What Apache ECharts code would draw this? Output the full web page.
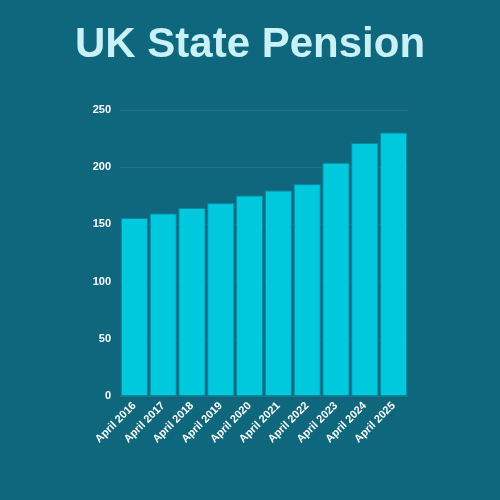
<!DOCTYPE html>
<html><head><meta charset="utf-8">
<script src="https://cdn.jsdelivr.net/npm/echarts@6/dist/echarts.min.js"></script>
<style>html,body{margin:0;padding:0;background:#0e677d}#c{width:500px;height:500px}</style>
</head><body><div id="c"></div>
<script>
const categories = ["April 2016","April 2017","April 2018","April 2019","April 2020","April 2021","April 2022","April 2023","April 2024","April 2025"];
const pensionValues = [155.65,159.55,164.35,168.60,175.20,179.60,185.15,203.85,221.20,230.25];
const chart = echarts.init(document.getElementById('c'));
chart.setOption({
  backgroundColor:'#0e677d',
  title:{text:'UK State Pension',left:'center',top:19,textStyle:{color:'#c9f1f8',fontSize:42,fontWeight:'bold',fontFamily:'Liberation Sans, Arial, sans-serif'}},
  grid:{left:120,right:92,top:110,bottom:104},
  xAxis:{type:'category',data:categories,axisLine:{show:false},axisTick:{show:false},
    axisLabel:{color:'#ffffff',fontWeight:'bold',fontSize:11,rotate:45,interval:0,margin:8,fontFamily:'Liberation Sans, Arial, sans-serif'}},
  yAxis:{type:'value',min:0,max:250,interval:50,axisLine:{show:false},axisTick:{show:false},
    splitLine:{lineStyle:{color:'#1d738a',width:1}},
    axisLabel:{color:'#ffffff',fontWeight:'bold',fontSize:11,margin:9,fontFamily:'Liberation Sans, Arial, sans-serif'}},
  series:[{type:'bar',data:pensionValues,barCategoryGap:'6%',
    itemStyle:{color:'#00c9dd',borderColor:'#0a8aa0',borderWidth:1}}]
});
</script></body></html>
